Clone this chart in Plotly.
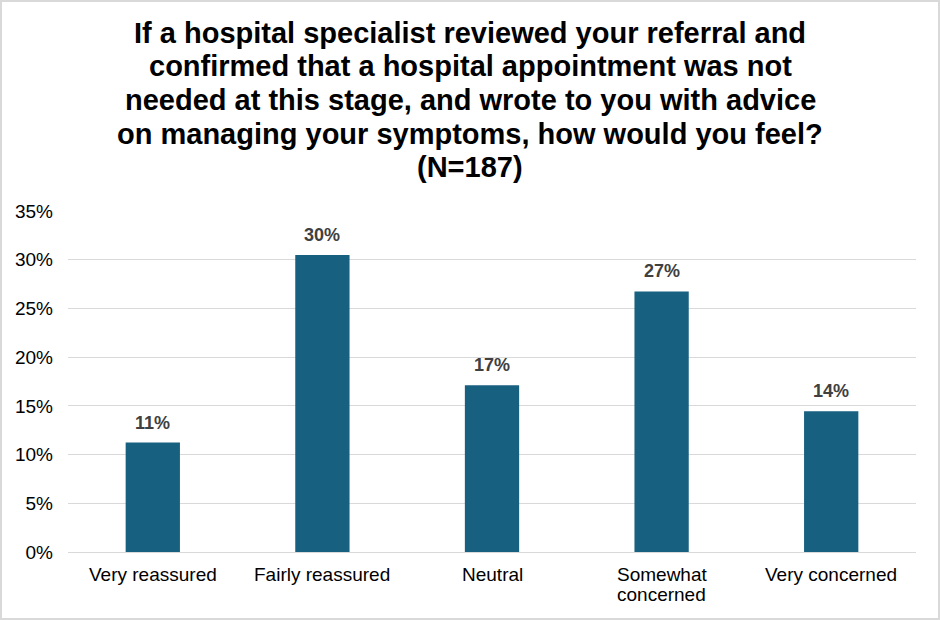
import plotly.graph_objects as go

categories = ["Very reassured", "Fairly reassured", "Neutral", "Somewhat<br>concerned", "Very concerned"]
values = [11.23, 30.48, 17.11, 26.74, 14.44]
tick_vals = [0, 5, 10, 15, 20, 25, 30, 35]
tick_text = ["0%", "5%", "10%", "15%", "20%", "25%", "30%", "35%"]
title_lines = [
    "If a hospital specialist reviewed your referral and",
    "confirmed that a hospital appointment was not",
    "needed at this stage, and wrote to you with advice",
    "on managing your symptoms, how would you feel?",
    "(N=187)",
]

W, H = 940, 620
ml, mr, mt, mb = 68, 24, 211, 68
pw, ph = W - ml - mr, H - mt - mb
FONT = "Liberation Sans, Arial"

fig = go.Figure()
fig.add_trace(go.Bar(
    x=categories, y=values,
    marker=dict(color="#17607F", line=dict(width=0)),
    width=0.32,
    hoverinfo="skip",
))

for c, v in zip(categories, values):
    fig.add_annotation(x=c, y=v, text=f"<b>{v:.0f}%</b>", showarrow=False,
                       yanchor="bottom", yshift=8,
                       font=dict(family=FONT, size=18, color="#404040"))

# category labels, one annotation per line (tight line spacing)
for c in categories:
    for j, part in enumerate(c.split("<br>")):
        yc = 574 + j * 20.5
        fig.add_annotation(x=c, xref="x", yref="paper", y=-(yc - (H - mb)) / ph,
                           xanchor="center", yanchor="middle", text=part, showarrow=False,
                           font=dict(family=FONT, size=19, color="#000000"))

# title, one annotation per line to match the tight line spacing
for i, line in enumerate(title_lines):
    yc = 33 + i * 33.5
    fig.add_annotation(xref="paper", yref="paper", x=(W / 2 - ml) / pw,
                       y=1 + (mt - yc) / ph, xanchor="center", yanchor="middle",
                       text=f"<b>{line}</b>", showarrow=False,
                       font=dict(family=FONT, size=29, color="#000000"))

# outer border of chart area
fig.add_shape(type="rect", xref="paper", yref="paper",
              x0=(1 - ml) / pw, x1=(W - 1 - ml) / pw,
              y0=-(mb - 1) / ph, y1=1 + (mt - 1) / ph,
              line=dict(color="#D9D9D9", width=2), fillcolor="rgba(0,0,0,0)", layer="below")

fig.update_layout(
    width=W, height=H,
    margin=dict(l=ml, r=mr, t=mt, b=mb, pad=0, autoexpand=False),
    paper_bgcolor="white", plot_bgcolor="white",
    showlegend=False,
    font=dict(family=FONT, size=19, color="#000000"),
    xaxis=dict(showgrid=False, showline=False, ticks="", showticklabels=False,
               automargin=False, fixedrange=True),
    yaxis=dict(range=[0, 35], tickvals=tick_vals, ticktext=tick_text,
               showgrid=True, gridcolor="#D9D9D9", gridwidth=1,
               zeroline=True, zerolinecolor="#D9D9D9", zerolinewidth=1,
               showline=False, ticks="", ticklabelstandoff=14, automargin=False,
               tickfont=dict(family=FONT, size=19, color="#000000"), fixedrange=True),
)

fig.write_html("out.html")
